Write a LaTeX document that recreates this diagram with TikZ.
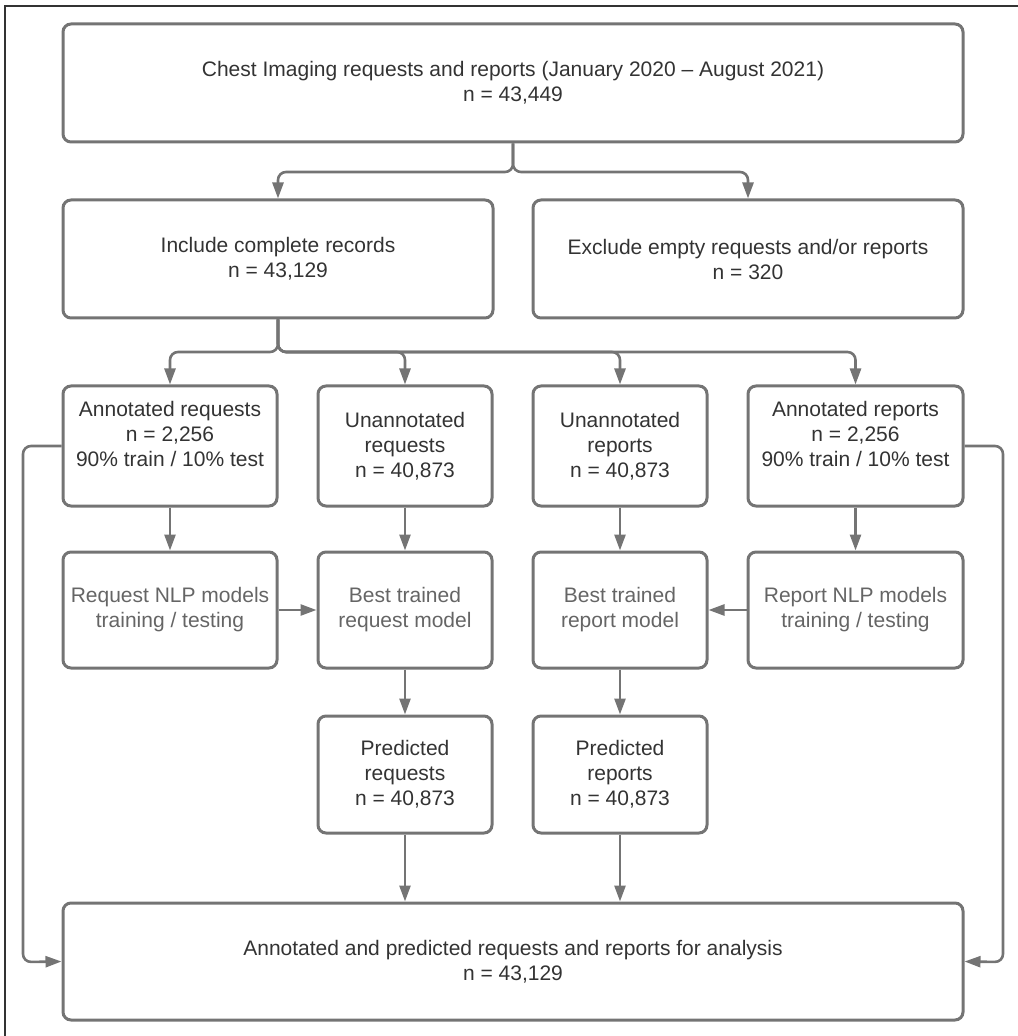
\documentclass[tikz,border=0pt]{standalone}
\usepackage{fontspec}
\setmainfont{Liberation Sans}
\usetikzlibrary{arrows.meta}

\definecolor{linegray}{HTML}{747474}
\definecolor{darktext}{HTML}{333333}
\definecolor{softtext}{HTML}{656565}

\tikzset{
  box/.style={draw=linegray, line width=1.5pt, rounded corners=4pt,
    align=center, inner sep=0pt, text=darktext,
    font=\fontsize{10.5}{12.5}\selectfont},
  modelbox/.style={box, text=softtext},
  arr/.style={draw=linegray, line width=1.3pt, rounded corners=4pt,
    -{Triangle[length=8pt,width=5.5pt]}}
}

\begin{document}
\begin{tikzpicture}[x=0.5pt, y=-0.5pt]
    \useasboundingbox (0,0) rectangle (1017,1036);
    \draw[line width=0.9pt, black!80] (5,1040) -- (5,6) -- (1020,6);

    % first split
    \node[box, minimum width=450pt, minimum height=59pt] (top) at (513,83)
        {Chest Imaging requests and reports (January 2020 – August 2021)\\ n = 43,449};
    \node[box, minimum width=215pt, minimum height=59pt] (incl) at (278,259)
        {Include complete records\\ n = 43,129};
    \node[box, minimum width=215pt, minimum height=59pt] (excl) at (748,259)
        {Exclude empty requests and/or reports\\ n = 320};

    % data sets
    \node[box, minimum width=107pt, minimum height=60pt] (areq) at (170,446)
        {Annotated requests\\ n = 2,256\\ 90\% train / 10\% test\\ \mbox{}};
    \node[box, minimum width=87pt, minimum height=60pt] (ureq) at (405,446)
        {Unannotated\\ requests\\ n = 40,873};
    \node[box, minimum width=87pt, minimum height=60pt] (urep) at (620,446)
        {Unannotated\\ reports\\ n = 40,873};
    \node[box, minimum width=107.5pt, minimum height=60pt] (arep) at (855.5,446)
        {Annotated reports\\ n = 2,256\\ 90\% train / 10\% test\\ \mbox{}};

    % models
    \node[modelbox, minimum width=107pt, minimum height=58pt] (rqnlp) at (170,610)
        {Request NLP models\\ training / testing};
    \node[modelbox, minimum width=87pt, minimum height=58pt] (rqbest) at (405,610)
        {Best trained\\ request model};
    \node[modelbox, minimum width=87pt, minimum height=58pt] (rpbest) at (620,610)
        {Best trained\\ report model};
    \node[modelbox, minimum width=107.5pt, minimum height=58pt] (rpnlp) at (855.5,610)
        {Report NLP models\\ training / testing};

    % predictions
    \node[box, minimum width=87pt, minimum height=58.5pt] (rqpred) at (405,774.5)
        {Predicted\\ requests\\ n = 40,873};
    \node[box, minimum width=87pt, minimum height=58.5pt] (rppred) at (620,774.5)
        {Predicted\\ reports\\ n = 40,873};

    \node[box, minimum width=450pt, minimum height=58.5pt] (final) at (513,961.5)
        {Annotated and predicted requests and reports for analysis\\ n = 43,129};

    % connectors
    \coordinate (split1) at (513,172);
    \coordinate (split2) at (278,352);
    \coordinate (lside) at (23,962);
    \coordinate (rside) at (1003,962);

    \draw[arr] (top.south) -- (split1) -| (incl.north);
    \draw[arr] (top.south) -- (split1) -| (excl.north);
    \foreach \n in {areq,ureq,urep,arep}
        \draw[arr] (incl.south) -- (split2) -| (\n.north);

    \draw[arr] (areq.south) -- (rqnlp.north);
    \draw[arr] (ureq.south) -- (rqbest.north);
    \draw[arr] (urep.south) -- (rpbest.north);
    \draw[arr] (arep.south) -- (rpnlp.north);
    \draw[arr] (rqnlp.east) -- (rqbest.west);
    \draw[arr] (rpnlp.west) -- (rpbest.east);
    \draw[arr] (rqbest.south) -- (rqpred.north);
    \draw[arr] (rpbest.south) -- (rppred.north);
    \draw[arr] (rqpred.south) -- (rqpred.south |- final.north);
    \draw[arr] (rppred.south) -- (rppred.south |- final.north);

    \draw[arr] (areq.west) -| (lside) -- (final.west);
    \draw[arr] (arep.east) -| (rside) -- (final.east);
\end{tikzpicture}
\end{document}
